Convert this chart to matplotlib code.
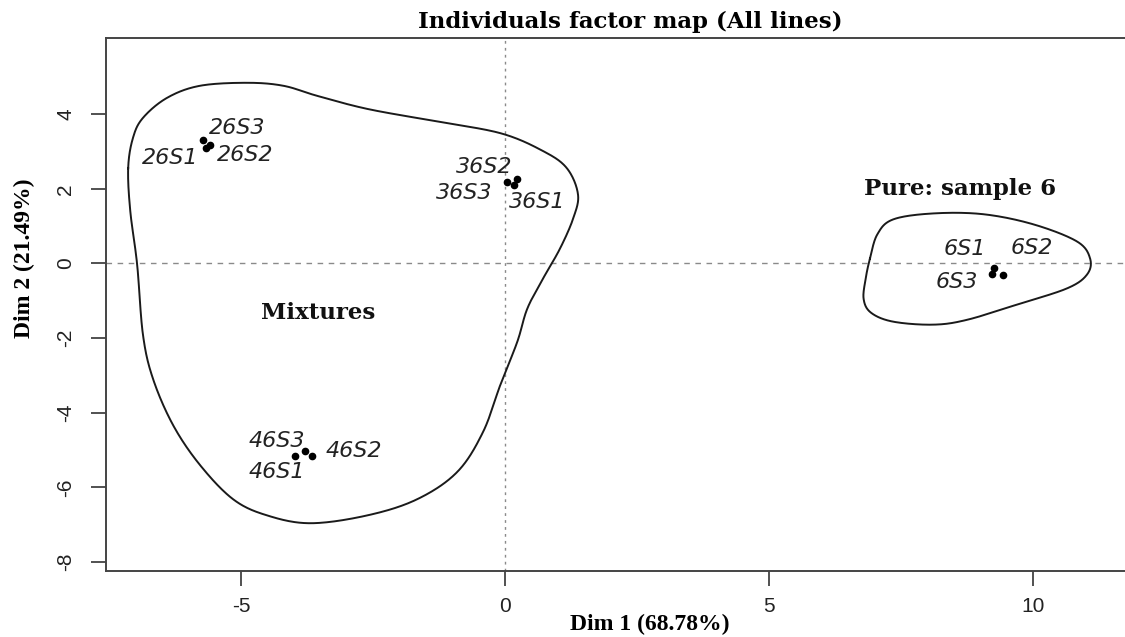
import numpy as np
import matplotlib
matplotlib.use("Agg")
import matplotlib.pyplot as plt

# ---------------- data ----------------
labels = ["26S1", "26S2", "26S3", "36S1", "36S2", "36S3",
          "46S1", "46S2", "46S3", "6S1", "6S2", "6S3"]
dim1 = [-5.66, -5.59, -5.72, 0.17, 0.23, 0.04,
        -3.98, -3.66, -3.79, 9.26, 9.43, 9.22]
dim2 = [3.09, 3.17, 3.30, 2.10, 2.26, 2.18,
        -5.16, -5.16, -5.03, -0.13, -0.31, -0.29]

# label anchor positions (data coords)
label_x = [-6.34, -4.92, -5.08, 0.61, -0.40, -0.78,
           -4.32, -2.86, -4.32, 8.71, 9.98, 8.56]
label_y = [2.82, 2.90, 3.63, 1.64, 2.58, 1.88,
           -5.59, -5.03, -4.76, 0.38, 0.41, -0.50]

# outline (control points) of the "Mixtures" group
mix_x = [-7.14, -7.05, -6.86, -6.40, -5.78, -4.89, -4.20, -3.56, -2.61, -1.36,
         -0.09, 0.72, 1.17, 1.38, 1.29, 1.04, 0.72, 0.42, 0.23, -0.09,
         -0.42, -0.91, -1.67, -2.61, -3.69, -4.51, -5.15, -5.78, -6.29, -6.67,
         -6.86, -6.97, -7.10]
mix_y = [2.55, 3.36, 3.90, 4.44, 4.76, 4.84, 4.76, 4.49, 4.14, 3.82,
         3.49, 3.01, 2.55, 1.85, 1.21, 0.40, -0.40, -1.21, -2.10, -3.25,
         -4.52, -5.59, -6.32, -6.75, -6.96, -6.75, -6.32, -5.40, -4.33, -3.09,
         -1.91, -0.03, 1.40]

# outline (control points) of the "Pure: sample 6" group
pure_x = [6.91, 7.05, 7.35, 8.11, 9.05, 10.00, 10.83, 11.08, 11.02,
          10.64, 9.70, 8.75, 8.11, 7.35, 6.93, 6.79, 6.83]
pure_y = [0.13, 0.78, 1.18, 1.34, 1.32, 1.05, 0.59, 0.13, -0.30,
          -0.67, -1.10, -1.51, -1.64, -1.56, -1.32, -0.95, -0.40]

title = "Individuals factor map (All lines)"
xlabel = "Dim 1 (68.78%)"
ylabel = "Dim 2 (21.49%)"
xticks = [-5, 0, 5, 10]
yticks = [-8, -6, -4, -2, 0, 2, 4]


def closed_spline(xs, ys, n=30):
    """Periodic Catmull-Rom curve through the control points."""
    P = np.column_stack([xs, ys])
    m = len(P)
    out = []
    t = np.linspace(0, 1, n, endpoint=False)[:, None]
    for i in range(m):
        p0, p1, p2, p3 = P[(i - 1) % m], P[i], P[(i + 1) % m], P[(i + 2) % m]
        seg = 0.5 * ((2 * p1) + (-p0 + p2) * t +
                     (2 * p0 - 5 * p1 + 4 * p2 - p3) * t ** 2 +
                     (-p0 + 3 * p1 - 3 * p2 + p3) * t ** 3)
        out.append(seg)
    out = np.vstack(out)
    out = np.vstack([out, out[:1]])
    return out[:, 0], out[:, 1]


W, H = 1125, 637
fig = plt.figure(figsize=(W / 100, H / 100), dpi=100)
L, R, T, B = 106, 1154, 38, 571
ax = fig.add_axes([L / W, 1 - B / H, (R - L) / W, (B - T) / H])
ax.set_xlim(-7.56, 12.29)
ax.set_ylim(-8.24, 6.04)

ax.axhline(0, color="#8a8a8a", lw=1.0, ls=(0, (4, 4)), zorder=1)
ax.axvline(0, color="#8a8a8a", lw=1.0, ls=(0, (2, 3)), zorder=1)

for xs, ys in [(mix_x, mix_y), (pure_x, pure_y)]:
    cx, cy = closed_spline(xs, ys)
    ax.plot(cx, cy, color="#1a1a1a", lw=1.4, zorder=2)

ax.plot(dim1, dim2, "o", color="black", ms=4.5, zorder=3)

pt_font = dict(family=["DejaVu Sans"], style="italic",
               size=16, color="#222222")
for lab, lx, ly in zip(labels, label_x, label_y):
    ax.text(lx, ly, lab, ha="center", va="center", **pt_font)

grp_font = dict(family=["DejaVu Serif"], weight="bold",
                size=16.5, color="#111111")
ax.text(-3.54, -1.33, "Mixtures", ha="center", va="center", **grp_font)
ax.text(8.62, 2.00, "Pure: sample 6", ha="center", va="center", **grp_font)

ax.set_xticks(xticks)
ax.set_yticks(yticks)
ax.set_xticklabels([str(v) for v in xticks])
ax.set_yticklabels([str(v) for v in yticks], rotation=90, va="center")
ax.tick_params(direction="out", length=11, width=1.2, color="#333333", pad=8,
               labelsize=15, labelcolor="#222222",
               labelfontfamily="Liberation Sans")
ax.tick_params(axis="y", pad=11)
ax.spines["right"].set_visible(False)
for s in ax.spines.values():
    s.set_color("#444444")
    s.set_linewidth(1.4)

fig.text(630 / W, 1 - 22 / H, title, ha="center", va="center",
         family=["DejaVu Serif"], weight="bold", size=16.5)
fig.text(650 / W, 1 - 624 / H, xlabel, ha="center", va="center",
         family=["Liberation Serif", "DejaVu Serif"], weight="bold", size=17)
fig.text(24 / W, 1 - 258 / H, ylabel, ha="center", va="center", rotation=90,
         family=["Liberation Serif", "DejaVu Serif"], weight="bold", size=17)

fig.savefig("out.png", dpi=100)
